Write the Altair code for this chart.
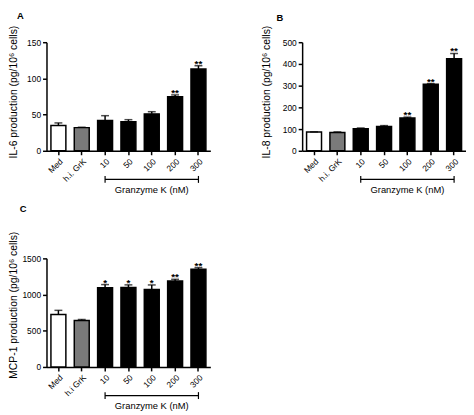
import altair as alt
import pandas as pd

# ---- data ----
categories_ab = ["Med", "h.i. GrK", "10", "50", "100", "200", "300"]
categories_c = ["Med", "h.i GrK", "10", "50", "100", "200", "300"]

il6_mean = [35, 32, 42, 40, 51, 74.5, 113]
il6_sem = [3.5, 0.5, 6.5, 3, 3, 2.7, 4.5]
il6_sig = ["", "", "", "", "", "**", "**"]

il8_mean = [86, 84, 102, 112, 151, 306, 424]
il8_sem = [1, 3, 3, 4, 4, 3, 24]
il8_sig = ["", "", "", "", "**", "**", "**"]

mcp1_mean = [725, 642, 1093, 1098, 1070, 1188, 1350]
mcp1_sem = [57, 13, 45, 36, 63, 23, 22]
mcp1_sig = ["", "", "*", "*", "*", "**", "**"]

il6_ticks = [0, 50, 100, 150]
il8_ticks = [0, 100, 200, 300, 400, 500]
mcp1_ticks = [0, 500, 1000, 1500]

group_label = "Granzyme K (nM)"

# ---- styling ----
FONT = "Arial, Liberation Sans, Helvetica, sans-serif"
FILL = ["white", "#7a7a7a", "black", "black", "black", "black", "black"]
W, H = 166, 110


def panel(cats, means, sems, sigs, ymax, yticks, ytitle, letter,
          title_x, title_y, letter_dx, letter_offset):
    df = pd.DataFrame({"cond": cats, "mean": means, "sem": sems, "sig": sigs})
    xenc = alt.X(
        "cond:N", sort=cats,
        scale=alt.Scale(domain=cats, paddingInner=0.36, paddingOuter=0.19),
        axis=alt.Axis(title=None, labelAngle=-45, labelFontSize=8.5, labelFont=FONT,
                      labelPadding=2, tickSize=4, tickWidth=1.5, domainWidth=1.5,
                      domainColor="black", tickColor="black", labelColor="black"),
    )
    yscale = alt.Scale(domain=[0, ymax], nice=False)
    yaxis = alt.Axis(title=ytitle, values=yticks, format="d", grid=False,
                     labelFontSize=8.5, labelFont=FONT, labelPadding=2, tickSize=4,
                     tickWidth=1.5, domainWidth=1.5, domainColor="black",
                     tickColor="black", labelColor="black", titleFont=FONT,
                     titleFontSize=10.5, titleFontWeight="normal", titleColor="black",
                     titleX=title_x, titleY=title_y, titleBaseline="middle",
                     titleAlign="center")
    base = alt.Chart(df).transform_calculate(upper="datum.mean + datum.sem")
    bars = base.mark_bar(stroke="black", strokeWidth=1.5).encode(
        x=xenc,
        y=alt.Y("mean:Q", scale=yscale, axis=yaxis),
        fill=alt.Fill("cond:N", scale=alt.Scale(domain=cats, range=FILL), legend=None),
    )
    err = base.mark_rule(color="black", strokeWidth=1.5).encode(
        x=xenc, y=alt.Y("mean:Q", scale=yscale, axis=yaxis), y2="upper:Q")
    cap = base.mark_tick(color="black", thickness=1.5, size=8).encode(
        x=xenc, y=alt.Y("upper:Q", scale=yscale, axis=yaxis))
    stars = base.mark_text(font=FONT, fontSize=10, fontWeight="bold",
                           baseline="alphabetic", dy=1, color="black").encode(
        x=xenc, y=alt.Y("upper:Q", scale=yscale, axis=yaxis), text="sig:N")

    treated = cats[2:]
    line = alt.Chart(pd.DataFrame({"cond": treated})).mark_line(
        color="black", strokeWidth=1.2).encode(x=xenc, y=alt.value(H + 29))
    ends = alt.Chart(pd.DataFrame({"cond": [treated[0], treated[-1]]})).mark_rule(
        color="black", strokeWidth=1.2).encode(
        x=xenc, y=alt.value(H + 25.5), y2=alt.value(H + 32.5))
    lab = alt.Chart(pd.DataFrame({"cond": [treated[len(treated) // 2]],
                                  "t": [group_label]})).mark_text(
        font=FONT, fontSize=9.5, baseline="middle", color="black").encode(
        x=xenc, y=alt.value(H + 40), text="t:N")

    return alt.layer(bars, err, cap, stars, line, ends, lab).properties(
        width=W, height=H,
        title=alt.TitleParams(letter, anchor="start", frame="group", dx=letter_dx,
                              offset=letter_offset, fontSize=9.5, fontWeight="bold",
                              font=FONT, color="black"),
    )


pa = panel(categories_ab, il6_mean, il6_sem, il6_sig, 150, il6_ticks,
           "IL-6 production (pg/10\u2076 cells)", "A", -33.5, 50, -30, 5)
pb = panel(categories_ab, il8_mean, il8_sem, il8_sig, 500, il8_ticks,
           "IL-8 production (pg/10\u2076 cells)", "B", -36, 50, -26, 2.5)
pc = panel(categories_c, mcp1_mean, mcp1_sem, mcp1_sig, 1500, mcp1_ticks,
           "MCP-1 production (pg/10\u2076 cells)", "C", -33.5, 47, -27, 18)

chart = alt.concat(
    pa, pb, pc, columns=2, align="none", spacing={"row": 8, "column": 51},
).resolve_scale(fill="independent").properties(padding=0).configure_view(stroke=None)

chart.save("out.html", embed_options={"renderer": "svg", "actions": False})
